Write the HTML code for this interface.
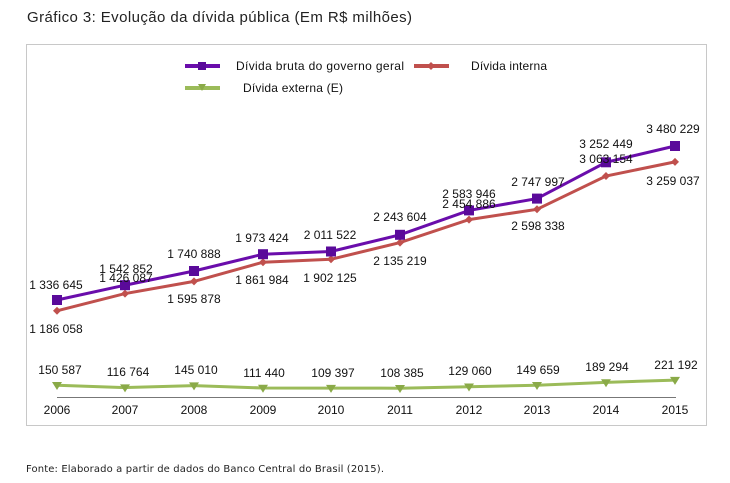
<!DOCTYPE html>
<html><head><meta charset="utf-8"><style>
html,body{margin:0;padding:0;background:#fff;}
svg{display:block;font-family:"Liberation Sans",Arial,sans-serif;}
</style></head><body>
<svg width="730" height="483" viewBox="0 0 730 483">
<text x="27" y="22" font-size="15" fill="#222" textLength="385">Gráfico 3: Evolução da dívida pública (Em R$ milhões)</text>
<rect x="26.5" y="44.5" width="680" height="381" fill="#fff" stroke="#c8c8c8"/>
<!-- legend -->
<line x1="185" y1="66" x2="220" y2="66" stroke="#6a0dab" stroke-width="4"/>
<rect x="198" y="62" width="8" height="8" fill="#5a0a9a"/>
<text x="236" y="70" font-size="12" fill="#111" textLength="168">Dívida bruta do governo geral</text>
<line x1="414" y1="66" x2="449" y2="66" stroke="#c0504d" stroke-width="4"/>
<path d="M431 62 L435 66 L431 70 L427 66Z" fill="#c0504d"/>
<text x="471" y="70" font-size="12" fill="#111" textLength="76">Dívida interna</text>
<line x1="185" y1="88" x2="220" y2="88" stroke="#9bbb59" stroke-width="4"/>
<path d="M198 84 L206 84 L202 91Z" fill="#8aaa48"/>
<text x="243" y="92" font-size="12" fill="#111" textLength="100">Dívida externa (E)</text>
<!-- axis -->
<line x1="57" y1="397.5" x2="676" y2="397.5" stroke="#777" stroke-width="1"/>
<g font-size="12" fill="#111" text-anchor="middle">
<text x="57" y="414">2006</text><text x="125" y="414">2007</text><text x="194" y="414">2008</text><text x="263" y="414">2009</text><text x="331" y="414">2010</text><text x="400" y="414">2011</text><text x="469" y="414">2012</text><text x="537" y="414">2013</text><text x="606" y="414">2014</text><text x="675" y="414">2015</text>
</g>
<!-- series -->
<polyline fill="none" stroke="#c0504d" stroke-width="3" points="57,310.8 125,293.6 194,281.4 263,262.2 331,259.3 400,242.6 469,219.6 537,209.3 606,176 675,161.9"/>
<g fill="#c0504d">
<path d="M57 306.8l4 4-4 4-4-4z"/><path d="M125 289.6l4 4-4 4-4-4z"/><path d="M194 277.4l4 4-4 4-4-4z"/><path d="M263 258.2l4 4-4 4-4-4z"/><path d="M331 255.3l4 4-4 4-4-4z"/><path d="M400 238.6l4 4-4 4-4-4z"/><path d="M469 215.6l4 4-4 4-4-4z"/><path d="M537 205.3l4 4-4 4-4-4z"/><path d="M606 172l4 4-4 4-4-4z"/><path d="M675 157.9l4 4-4 4-4-4z"/>
</g>
<polyline fill="none" stroke="#6a0dab" stroke-width="3" points="57,300 125,285.2 194,271 263,254.2 331,251.5 400,234.8 469,210.4 537,198.6 606,162.3 675,146"/>
<g fill="#5a0a9a">
<rect x="52" y="295" width="10" height="10"/><rect x="120" y="280.2" width="10" height="10"/><rect x="189" y="266" width="10" height="10"/><rect x="258" y="249.2" width="10" height="10"/><rect x="326" y="246.5" width="10" height="10"/><rect x="395" y="229.8" width="10" height="10"/><rect x="464" y="205.4" width="10" height="10"/><rect x="532" y="193.6" width="10" height="10"/><rect x="601" y="157.3" width="10" height="10"/><rect x="670" y="141" width="10" height="10"/>
</g>
<polyline fill="none" stroke="#9bbb59" stroke-width="3" points="57,385.2 125,387.6 194,385.6 263,388 331,388.1 400,388.2 469,386.7 537,385.2 606,382.4 675,380.1"/>
<g fill="#8aaa48">
<path d="M52 382h10l-5 8z"/><path d="M120 384.4h10l-5 8z"/><path d="M189 382.4h10l-5 8z"/><path d="M258 384.8h10l-5 8z"/><path d="M326 384.9h10l-5 8z"/><path d="M395 385h10l-5 8z"/><path d="M464 383.5h10l-5 8z"/><path d="M532 382h10l-5 8z"/><path d="M601 379.2h10l-5 8z"/><path d="M670 376.9h10l-5 8z"/>
</g>
<!-- labels -->
<g font-size="12" fill="#111" text-anchor="middle">
<text x="56" y="289">1 336 645</text>
<text x="126" y="273">1 542 852</text>
<text x="194" y="258">1 740 888</text>
<text x="262" y="242">1 973 424</text>
<text x="330" y="239">2 011 522</text>
<text x="400" y="221">2 243 604</text>
<text x="469" y="198">2 583 946</text>
<text x="538" y="186">2 747 997</text>
<text x="606" y="148">3 252 449</text>
<text x="673" y="133">3 480 229</text>
<text x="56" y="333">1 186 058</text>
<text x="126" y="282">1 426 087</text>
<text x="194" y="303">1 595 878</text>
<text x="262" y="284">1 861 984</text>
<text x="330" y="282">1 902 125</text>
<text x="400" y="265">2 135 219</text>
<text x="469" y="208">2 454 886</text>
<text x="538" y="230">2 598 338</text>
<text x="606" y="163">3 063 154</text>
<text x="673" y="185">3 259 037</text>
<text x="60" y="374">150 587</text>
<text x="128" y="376">116 764</text>
<text x="196" y="374">145 010</text>
<text x="264" y="377">111 440</text>
<text x="333" y="377">109 397</text>
<text x="402" y="377">108 385</text>
<text x="470" y="375">129 060</text>
<text x="538" y="374">149 659</text>
<text x="607" y="371">189 294</text>
<text x="676" y="369">221 192</text>
</g>
<text x="26" y="472" font-size="10" fill="#222" font-family="'DejaVu Sans',sans-serif" textLength="358">Fonte: Elaborado a partir de dados do Banco Central do Brasil (2015).</text>
</svg>
</body></html>
